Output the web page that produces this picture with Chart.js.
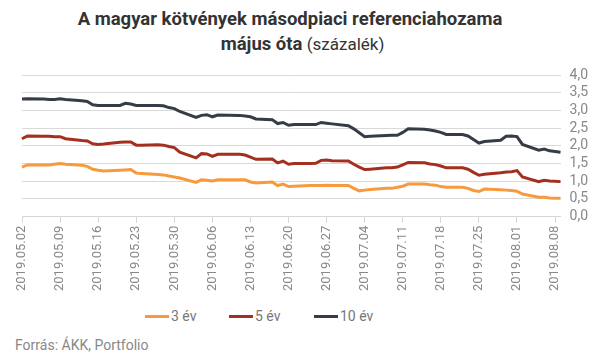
<!DOCTYPE html>
<html>
<head>
<meta charset="utf-8">
<script src="https://cdn.jsdelivr.net/npm/chart.js@4.4.1/dist/chart.umd.min.js"></script>
<style>
  html, body { margin: 0; padding: 0; background: #fff; }
  body { width: 605px; height: 358px; position: relative; overflow: hidden; font-family: Roboto, "Noto Sans", sans-serif; }
  .t { position: absolute; left: 0; text-align: center; color: #333; font-size: 17px; line-height: 25px; white-space: nowrap; }
  #t1 { top: 7px; width: 580px; font-weight: bold; font-size: 18.5px; }
  #t2 { top: 32px; width: 605px; }
  #t2 b { font-size: 18.5px; }
  #wrap { position: absolute; left: 0; top: 0; width: 605px; height: 305px; }
  #legend { position: absolute; top: 307px; left: 0; width: 605px; height: 18px; font-size: 14px; color: #777; }
  .item { position: absolute; top: 0; line-height: 18px; }
  .item i { display: inline-block; width: 24px; height: 3px; vertical-align: middle; margin-right: 2px; position: relative; top: -1px; }
  #source { position: absolute; left: 15px; top: 337px; font-size: 14px; color: #888; }
</style>
</head>
<body>
<div class="t" id="t1">A magyar kötvények másodpiaci referenciahozama</div>
<div class="t" id="t2"><b>május óta</b> (százalék)</div>
<div id="wrap"><canvas id="c"></canvas></div>
<div id="legend">
  <span class="item" style="left:145px"><i style="background:#f79a3e"></i>3 év</span>
  <span class="item" style="left:229px"><i style="background:#a3301f"></i>5 év</span>
  <span class="item" style="left:314px"><i style="background:#363c45"></i>10 év</span>
</div>
<div id="source">Forrás: ÁKK, Portfolio</div>
<script>
// Business days with data (month.day)
const dates = [
  "05.02","05.03","05.06","05.07","05.08","05.09","05.10","05.13","05.14","05.15","05.16","05.17",
  "05.20","05.21","05.22","05.23","05.24","05.27","05.28","05.29","05.30","05.31",
  "06.03","06.04","06.05","06.06","06.07","06.11","06.12","06.13","06.14",
  "06.17","06.18","06.19","06.20","06.21","06.24","06.25","06.26","06.27","06.28",
  "07.01","07.02","07.03","07.04","07.05","07.08","07.09","07.10","07.11","07.12",
  "07.15","07.16","07.17","07.18","07.19","07.22","07.23","07.24","07.25","07.26",
  "07.29","07.30","07.31","08.01","08.02","08.05","08.06","08.07","08.08","08.09"
];
const y3 = [
  1.40,1.46,1.46,1.46,1.48,1.50,1.48,1.45,1.42,1.34,1.31,1.29,
  1.31,1.32,1.33,1.23,1.22,1.19,1.18,1.15,1.12,1.09,
  0.97,1.04,1.03,1.01,1.04,1.04,1.04,0.98,0.95,
  0.98,0.88,0.92,0.85,0.86,0.88,0.88,0.88,0.89,0.88,
  0.88,0.80,0.73,0.75,0.77,0.80,0.80,0.83,0.86,0.92,
  0.92,0.90,0.89,0.85,0.83,0.83,0.80,0.74,0.71,0.78,
  0.76,0.75,0.74,0.72,0.64,0.55,0.55,0.53,0.52,0.52
];
const y5 = [
  2.20,2.28,2.27,2.27,2.26,2.26,2.20,2.15,2.14,2.06,2.04,2.05,
  2.10,2.11,2.11,2.02,2.02,2.03,2.02,1.98,1.95,1.82,
  1.66,1.78,1.77,1.70,1.76,1.76,1.74,1.68,1.62,
  1.63,1.52,1.57,1.48,1.50,1.50,1.51,1.59,1.60,1.58,
  1.57,1.48,1.40,1.33,1.34,1.38,1.38,1.40,1.46,1.53,
  1.52,1.49,1.47,1.43,1.38,1.38,1.34,1.25,1.17,1.20,
  1.24,1.26,1.27,1.30,1.12,0.99,1.03,1.01,1.00,0.99
];
const y10 = [
  3.32,3.33,3.32,3.31,3.31,3.33,3.31,3.27,3.25,3.16,3.14,3.14,
  3.14,3.20,3.18,3.14,3.14,3.14,3.13,3.08,3.05,2.97,
  2.80,2.86,2.88,2.82,2.87,2.86,2.84,2.82,2.76,
  2.74,2.63,2.66,2.58,2.60,2.60,2.60,2.66,2.64,2.62,
  2.57,2.48,2.37,2.26,2.27,2.29,2.30,2.30,2.38,2.48,
  2.47,2.45,2.42,2.38,2.32,2.32,2.28,2.18,2.08,2.12,
  2.16,2.27,2.28,2.26,2.04,1.88,1.91,1.86,1.84,1.82
];
const seriesNames = ["3 év", "5 év", "10 év"];
const yTicks = [0,0.5,1,1.5,2,2.5,3,3.5,4];

// full calendar axis (2019.05.02 – 2019.08.09)
const labels = [];
const start = new Date(Date.UTC(2019,4,2));
const end = new Date(Date.UTC(2019,7,9));
for (let d = new Date(start); d <= end; d.setUTCDate(d.getUTCDate()+1)) {
  const m = String(d.getUTCMonth()+1).padStart(2,'0');
  const dd = String(d.getUTCDate()).padStart(2,'0');
  labels.push(m + "." + dd);
}
function spread(vals) {
  const map = {};
  dates.forEach((k,i) => map[k] = vals[i]);
  return labels.map(l => (l in map) ? map[l] : null);
}
const colors = ["#f79a3e", "#a3301f", "#363c45"];
const datasets = [y3, y5, y10].map((v,i) => ({
  label: seriesNames[i], data: spread(v), borderColor: colors[i], backgroundColor: colors[i],
  borderWidth: 3, pointRadius: 0, tension: 0, spanGaps: true
}));

new Chart(document.getElementById('c'), {
  type: 'line',
  data: { labels, datasets },
  options: {
    responsive: true, maintainAspectRatio: false, animation: false,
    layout: { padding: { top: 75, left: 22, right: 8, bottom: 11 } },
    plugins: { legend: { display: false }, tooltip: { enabled: false } },
    scales: {
      x: {
        grid: { display: true, drawOnChartArea: false, drawTicks: true, tickLength: 6, color: '#d6d6d6' },
        border: { display: true, color: '#d6d6d6' },
        afterBuildTicks: (axis) => { axis.ticks = axis.ticks.filter((t) => t.value % 7 === 0); },
        ticks: {
          autoSkip: false, minRotation: 90, maxRotation: 90, color: '#888', padding: 3,
          font: { family: 'Roboto', size: 13 },
          callback: function(v) { return "2019." + labels[v]; }
        }
      },
      y: {
        position: 'right', min: 0, max: 4,
        afterBuildTicks: (axis) => { axis.ticks = yTicks.map(v => ({ value: v })); },
        grid: { color: '#d9d9d9', drawTicks: false },
        border: { display: false },
        ticks: {
          autoSkip: false, color: '#888', padding: 9, font: { family: 'Roboto', size: 14 },
          callback: (v) => v.toFixed(1).replace('.', ',')
        }
      }
    }
  }
});
</script>
</body>
</html>
